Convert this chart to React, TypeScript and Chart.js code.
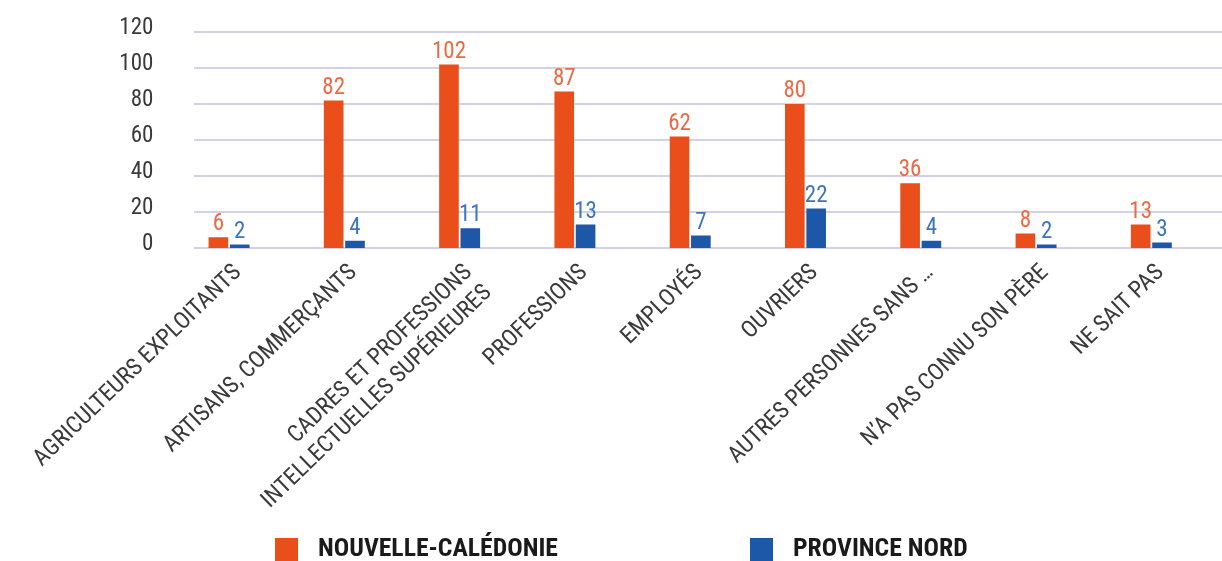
import { useEffect, useRef } from 'react';
import { Chart, registerables } from 'chart.js';

Chart.register(...registerables);

const categories: (string | string[])[] = [
  'AGRICULTEURS EXPLOITANTS',
  'ARTISANS, COMMERÇANTS',
  ['CADRES ET PROFESSIONS', 'INTELLECTUELLES SUPÉRIEURES'],
  'PROFESSIONS',
  'EMPLOYÉS',
  'OUVRIERS',
  'AUTRES PERSONNES SANS …',
  'N’A PAS CONNU SON PÈRE',
  'NE SAIT PAS',
];
const seriesNames = ['NOUVELLE-CALÉDONIE', 'PROVINCE NORD'];
const nouvelleCaledonie = [6, 82, 102, 87, 62, 80, 36, 8, 13];
const provinceNord = [2, 4, 11, 13, 7, 22, 4, 2, 3];
const yMin = 0;
const yMax = 120;
const yStep = 20;

const barColors = ['#E94E1B', '#1D57A7'];
const labelColors = ['#EA6A43', '#3F74BE'];
const FONT = "'Roboto Condensed', 'Liberation Sans Narrow', 'DejaVu Sans Condensed', 'DejaVu Sans', sans-serif";

const gridPlugin = {
  id: 'customGrid',
  beforeDatasetsDraw(chart: any) {
    const { ctx } = chart;
    const y = chart.scales.y;
    ctx.save();
    ctx.strokeStyle = '#d2d2e4';
    ctx.lineWidth = 2;
    y.ticks.forEach((t: any) => {
      const py = Math.round(y.getPixelForValue(t.value));
      ctx.beginPath();
      ctx.moveTo(194, py);
      ctx.lineTo(chart.width, py);
      ctx.stroke();
    });
    ctx.restore();
  },
};

const barLabelPlugin = {
  id: 'barLabels',
  afterDatasetsDraw(chart: any) {
    const { ctx } = chart;
    ctx.save();
    ctx.font = `condensed 23px ${FONT}`;
    ctx.textAlign = 'center';
    ctx.textBaseline = 'bottom';
    chart.data.datasets.forEach((ds: any, di: number) => {
      const meta = chart.getDatasetMeta(di);
      ctx.fillStyle = labelColors[di];
      meta.data.forEach((bar: any, i: number) => {
        ctx.fillText(String(ds.data[i]), bar.x, bar.y - 1);
      });
    });
    ctx.restore();
  },
};

const legendPlugin = {
  id: 'customLegend',
  afterDraw(chart: any) {
    const { ctx } = chart;
    const starts = [275, 750];
    ctx.save();
    ctx.font = `bold condensed 25.7px ${FONT}`;
    ctx.textAlign = 'left';
    ctx.textBaseline = 'top';
    chart.data.datasets.forEach((ds: any, di: number) => {
      const x = starts[di];
      ctx.fillStyle = ds.backgroundColor;
      ctx.fillRect(x, 538, 23, 23);
      ctx.fillStyle = '#1a1a1a';
      ctx.fillText(ds.label, x + 43, 537);
    });
    ctx.restore();
  },
};

export default function App() {
  const ref = useRef<HTMLCanvasElement | null>(null);

  useEffect(() => {
    document.body.style.margin = '0';
    if (!ref.current) return;
    const chart = new Chart(ref.current, {
      type: 'bar',
      data: {
        labels: categories,
        datasets: [
          {
            label: seriesNames[0],
            data: nouvelleCaledonie,
            backgroundColor: barColors[0],
            borderWidth: 0,
            categoryPercentage: 0.37,
            barPercentage: 0.92,
          },
          {
            label: seriesNames[1],
            data: provinceNord,
            backgroundColor: barColors[1],
            borderWidth: 0,
            categoryPercentage: 0.37,
            barPercentage: 0.92,
          },
        ],
      },
      options: {
        animation: false,
        responsive: false,
        layout: { padding: { top: 32, right: 13, left: 0, bottom: 0 } },
        plugins: {
          legend: { display: false },
          tooltip: { enabled: false },
        },
        scales: {
          x: {
            grid: { display: false, drawTicks: false },
            border: { display: false },
            ticks: {
              autoSkip: false,
              maxRotation: 44,
              minRotation: 44,
              color: '#3a3a3a',
              font: { family: FONT, size: 23.5, weight: 'condensed' as any },
              padding: 11,
              labelOffset: 9,
            },
            afterFit: (s: any) => {
              s.height = 561 - 248;
            },
          },
          y: {
            min: yMin,
            max: yMax,
            ticks: {
              stepSize: yStep,
              padding: 18,
              labelOffset: -4,
              color: '#3a3a3a',
              font: { family: FONT, size: 23, weight: 'condensed' as any },
            },
            grid: { display: false, drawTicks: false },
            border: { display: false },
            afterFit: (s: any) => {
              s.width = 171.4;
            },
          },
        },
      },
      plugins: [gridPlugin, barLabelPlugin, legendPlugin],
    });
    return () => chart.destroy();
  }, []);

  return (
    <div style={{ width: 1222, height: 561, overflow: 'hidden', background: '#fff' }}>
      <canvas ref={ref} width={1222} height={561} style={{ display: 'block' }} />
    </div>
  );
}
